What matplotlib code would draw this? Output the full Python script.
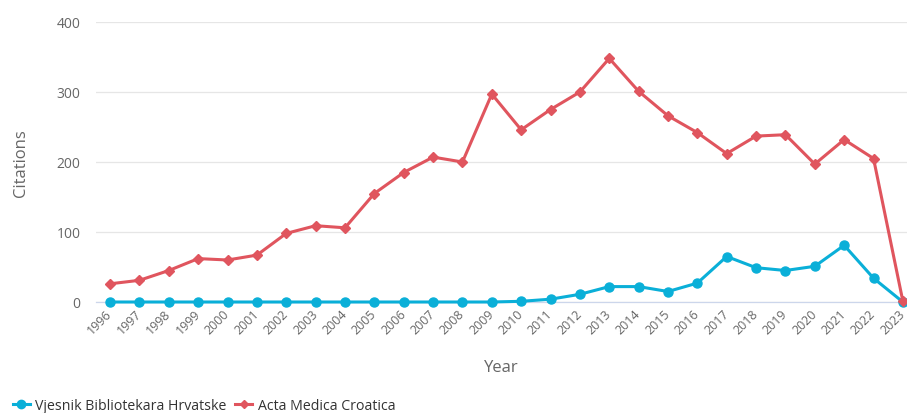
import matplotlib.pyplot as plt
from matplotlib.lines import Line2D

plt.rcParams['font.family'] = ['Open Sans', 'DejaVu Sans']

years = list(range(1996, 2024))
vjesnik = [0, 0, 0, 0, 0, 0, 0, 0, 0, 0, 0, 0, 0, 0,
           1, 4, 11, 22, 22, 15, 27, 65, 49, 45, 51, 81, 34, 0]
acta = [26, 31, 45, 62, 60, 67, 98, 109, 106, 155, 185, 207, 200, 297,
        246, 275, 300, 348, 301, 266, 242, 212, 237, 239, 197, 232, 205, 1]

blue = '#0aafd8'
red = '#e0555e'
gray = '#666666'

fig = plt.figure(figsize=(9.07, 4.14), dpi=100)
ax = fig.add_axes([96 / 907, 111 / 414, 811 / 907, 280 / 414])

ax.plot(years, vjesnik, color=blue, lw=2.2, marker='o', ms=6.5,
        clip_on=False, zorder=3)
ax.plot(years, acta, color=red, lw=2.2, marker='D', ms=5,
        clip_on=False, zorder=4)

ax.set_xlim(1995.52, 2023.14)
ax.set_ylim(0, 400)
ax.set_yticks([0, 100, 200, 300, 400])
ax.set_xticks(years)
ax.set_xticklabels([str(y) for y in years], rotation=45, ha='right',
                   va='center', rotation_mode='anchor', fontsize=9,
                   color=gray)
ax.tick_params(axis='y', length=0, labelsize=10, labelcolor=gray, pad=11)
ax.tick_params(axis='x', length=0, pad=7)

ax.grid(axis='y', color='#e6e6e6', lw=0.9)
ax.set_axisbelow(True)
for s in ['top', 'right', 'left']:
    ax.spines[s].set_visible(False)
ax.spines['bottom'].set_color('#ccd6eb')
ax.spines['bottom'].set_linewidth(0.9)

ax.set_ylabel('Citations', fontsize=12, color=gray, labelpad=20)
ax.set_xlabel('Year', fontsize=12, color=gray, labelpad=16)

handles = [Line2D([], [], color=blue, lw=2.2, marker='o', ms=6),
           Line2D([], [], color=red, lw=2.2, marker='D', ms=4.5)]
fig.legend(handles, ['Vjesnik Bibliotekara Hrvatske', 'Acta Medica Croatica'],
           loc='lower left', bbox_to_anchor=(0.0, -0.03), ncol=2,
           frameon=False, fontsize=10.2, handlelength=1.2, handletextpad=0.4,
           columnspacing=0.6, labelcolor='#333333')

fig.savefig('out.png', dpi=100)
